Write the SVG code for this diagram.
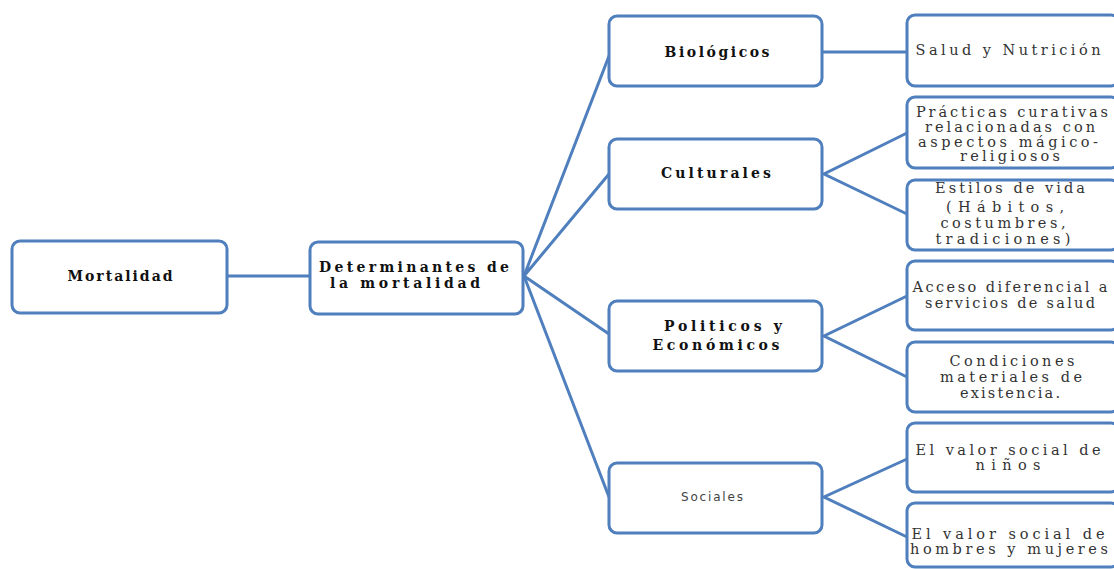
<svg xmlns="http://www.w3.org/2000/svg" width="1114" height="569" viewBox="0 0 1114 569">
<style>
.box{fill:#ffffff;stroke:#4f7fbd;stroke-width:3}
.con{stroke:#4f7fbd;stroke-width:3;fill:none;stroke-linecap:round}
.b{font-family:"DejaVu Serif","Liberation Serif",serif;font-weight:bold;font-size:14px;fill:#111;text-anchor:middle}
.r{font-family:"DejaVu Serif","Liberation Serif",serif;font-size:14.5px;fill:#333;text-anchor:middle}
.s{font-family:"DejaVu Sans","Liberation Sans",sans-serif;font-size:12px;fill:#444;text-anchor:middle}
</style>
<rect width="1114" height="569" fill="#ffffff"/>
<g id="connectors">
<line class="con" x1="228" y1="276" x2="310" y2="276"/>
<polyline class="con" points="609,56 524,276 609,174"/>
<polyline class="con" points="609,334 524,276 609,497"/>
<line class="con" x1="822" y1="52" x2="907" y2="52"/>
<polyline class="con" points="907,133 824,174 907,214"/>
<polyline class="con" points="907,296 824,336 907,377"/>
<polyline class="con" points="907,459 824,497 907,537"/>
</g>
<g id="mortalidad">
<rect class="box" x="12" y="241" width="215" height="72" rx="8"/>
<text class="b" x="120" y="281" textLength="105" lengthAdjust="spacing">Mortalidad</text>
</g>
<g id="determinantes">
<rect class="box" x="310" y="242" width="213" height="72" rx="8"/>
<text class="b" x="414" y="272" textLength="190" lengthAdjust="spacing">Determinantes de</text>
<text class="b" x="405" y="288" textLength="150" lengthAdjust="spacing">la mortalidad</text>
</g>
<g id="biologicos">
<rect class="box" x="609" y="16" width="213" height="70" rx="8"/>
<text class="b" x="717" y="57" textLength="105" lengthAdjust="spacing">Biológicos</text>
</g>
<g id="culturales">
<rect class="box" x="609" y="139" width="213" height="70" rx="8"/>
<text class="b" x="716" y="178" textLength="110" lengthAdjust="spacing">Culturales</text>
</g>
<g id="politicos">
<rect class="box" x="609" y="301" width="213" height="70" rx="8"/>
<text class="b" x="723" y="331" textLength="118" lengthAdjust="spacing">Politicos y</text>
<text class="b" x="716" y="350" textLength="127" lengthAdjust="spacing">Económicos</text>
</g>
<g id="sociales">
<rect class="box" x="609" y="463" width="213" height="70" rx="8"/>
<text class="s" x="712" y="501" textLength="62" lengthAdjust="spacing">Sociales</text>
</g>
<g id="salud">
<rect class="box" x="907" y="15" width="212" height="71" rx="8"/>
<text class="r" x="1008" y="55" textLength="185" lengthAdjust="spacing">Salud y Nutrición</text>
</g>
<g id="practicas">
<rect class="box" x="907" y="97" width="212" height="71" rx="8"/>
<text class="r" x="1012" y="117" textLength="192" lengthAdjust="spacing">Prácticas curativas</text>
<text class="r" x="1010" y="132" textLength="170" lengthAdjust="spacing">relacionadas con</text>
<text class="r" x="1008" y="147" textLength="180" lengthAdjust="spacing">aspectos mágico-</text>
<text class="r" x="1010" y="161" textLength="100" lengthAdjust="spacing">religiosos</text>
</g>
<g id="estilos">
<rect class="box" x="907" y="180" width="212" height="70" rx="8"/>
<text class="r" x="1010" y="193" font-size="12" textLength="150" lengthAdjust="spacing">Estilos de vida</text>
<text class="r" x="1005" y="212" textLength="118" lengthAdjust="spacing">(Hábitos,</text>
<text class="r" x="1003" y="228" textLength="125" lengthAdjust="spacing">costumbres,</text>
<text class="r" x="1003" y="244" textLength="135" lengthAdjust="spacing">tradiciones)</text>
</g>
<g id="acceso">
<rect class="box" x="907" y="261" width="212" height="69" rx="8"/>
<text class="r" x="1010" y="292" textLength="195" lengthAdjust="spacing">Acceso diferencial a</text>
<text class="r" x="1010" y="308" textLength="170" lengthAdjust="spacing">servicios de salud</text>
</g>
<g id="condiciones">
<rect class="box" x="907" y="342" width="212" height="70" rx="8"/>
<text class="r" x="1012" y="366" textLength="125" lengthAdjust="spacing">Condiciones</text>
<text class="r" x="1011" y="382" textLength="142" lengthAdjust="spacing">materiales de</text>
<text class="r" x="1010" y="398" textLength="100" lengthAdjust="spacing">existencia.</text>
</g>
<g id="ninos">
<rect class="box" x="907" y="423" width="212" height="69" rx="8"/>
<text class="r" x="1008" y="455" textLength="185" lengthAdjust="spacing">El valor social de</text>
<text class="r" x="1008" y="470" textLength="65" lengthAdjust="spacing">niños</text>
</g>
<g id="hombres">
<rect class="box" x="907" y="503" width="212" height="64" rx="8"/>
<text class="r" x="1008" y="539" textLength="193" lengthAdjust="spacing">El valor social de</text>
<text class="r" x="1009" y="554" textLength="198" lengthAdjust="spacing">hombres y mujeres</text>
</g>
</svg>
